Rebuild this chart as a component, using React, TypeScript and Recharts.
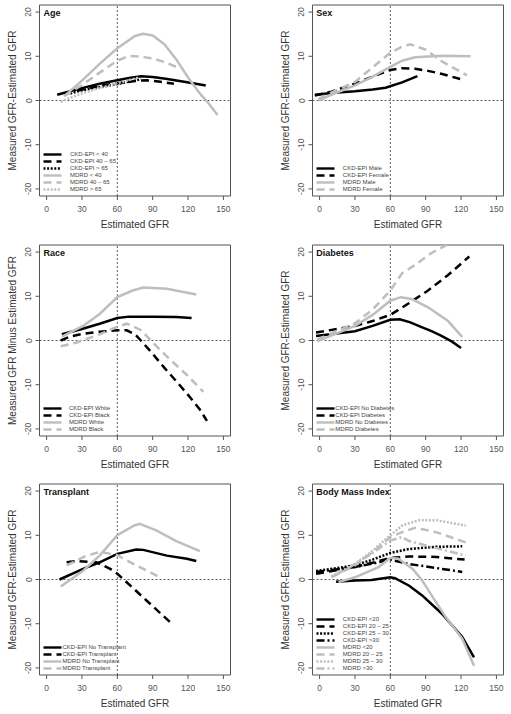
import { LineChart, Line, XAxis, YAxis, ReferenceLine, ReferenceArea } from "recharts";

type Pt = [number, number];

const xTicks = [0, 30, 60, 90, 120, 150];
const yTicks = [-20, -15, -10, -5, 0, 5, 10, 15, 20];

// Age
const ageCkdUnder40: Pt[] = [[9, 1.3], [20, 2.1], [30, 2.8], [45, 3.8], [60, 4.6], [70, 5.1], [80, 5.5], [90, 5.3], [101, 4.9], [118, 4.2], [135, 3.4]];
const ageCkd40to65: Pt[] = [[15, 1.5], [30, 2.5], [45, 3.3], [60, 3.9], [75, 4.4], [85, 4.6], [95, 4.3], [108, 3.8]];
const ageCkdOver65: Pt[] = [[20, 1.6], [30, 2.3], [45, 3.0], [60, 3.7], [72, 4.4], [80, 4.8]];
const ageMdrdUnder40: Pt[] = [[15, 1.0], [30, 4.5], [45, 8.3], [60, 11.8], [75, 14.6], [82, 15.1], [90, 14.7], [100, 12.7], [110, 9.3], [120, 5.2], [130, 1.6], [137, -0.5], [145, -3.3]];
const ageMdrd40to65: Pt[] = [[15, 1.0], [30, 3.5], [45, 6.3], [60, 9.0], [70, 10.1], [80, 9.9], [90, 9.5], [100, 8.7], [110, 7.6]];
const ageMdrdOver65: Pt[] = [[12, -0.3], [20, 0.6], [30, 1.6], [45, 2.8], [60, 3.9], [70, 4.6], [78, 5.2]];

// Sex
const sexCkdMale: Pt[] = [[-4, 1.3], [10, 1.7], [30, 2.1], [45, 2.5], [56, 2.9], [70, 4.1], [83, 5.5]];
const sexCkdFemale: Pt[] = [[-4, 1.1], [10, 2.0], [30, 3.8], [45, 5.4], [60, 6.9], [70, 7.3], [81, 7.2], [92, 6.7], [104, 6.0], [120, 4.8]];
const sexMdrdMale: Pt[] = [[-1, 0.0], [10, 1.3], [30, 3.4], [45, 5.4], [60, 7.6], [70, 9.0], [81, 9.8], [104, 10.1], [128, 10.0]];
const sexMdrdFemale: Pt[] = [[-1, 0.3], [10, 1.8], [30, 4.2], [45, 7.5], [60, 10.8], [70, 12.2], [77, 12.7], [90, 11.5], [104, 8.8], [125, 5.7]];

// Race
const raceCkdWhite: Pt[] = [[13, 1.4], [30, 2.6], [45, 3.8], [60, 5.1], [70, 5.4], [90, 5.4], [110, 5.3], [123, 5.1]];
const raceCkdBlack: Pt[] = [[12, 0.0], [20, 0.9], [30, 1.5], [45, 2.0], [60, 2.3], [68, 2.3], [75, 1.4], [80, 0.0], [90, -3.0], [100, -6.2], [110, -9.2], [120, -12.3], [130, -15.6], [136, -18.2]];
const raceMdrdWhite: Pt[] = [[13, 0.9], [31, 3.3], [45, 6.0], [60, 9.8], [73, 11.3], [82, 12.0], [102, 11.7], [127, 10.4]];
const raceMdrdBlack: Pt[] = [[12, -1.3], [25, -0.5], [45, 1.4], [60, 3.1], [68, 3.8], [79, 2.5], [85, 1.0], [95, -1.8], [102, -3.6], [110, -5.6], [119, -7.8], [133, -11.6]];

// Diabetes
const diaCkdNo: Pt[] = [[-3, 1.0], [30, 2.1], [45, 3.3], [60, 4.7], [68, 4.8], [77, 4.1], [86, 3.1], [95, 2.1], [103, 1.1], [112, -0.2], [120, -1.7]];
const diaCkdYes: Pt[] = [[-3, 1.8], [30, 3.3], [45, 4.4], [60, 5.8], [75, 8.3], [92, 11.3], [109, 14.8], [127, 19.0]];
const diaMdrdNo: Pt[] = [[-2, -0.2], [30, 3.3], [45, 5.8], [60, 9.0], [69, 9.8], [78, 9.4], [92, 7.5], [109, 4.4], [121, 0.8]];
const diaMdrdYes: Pt[] = [[-2, 0.2], [30, 3.9], [45, 7.0], [60, 11.3], [70, 15.2], [81, 17.1], [95, 19.8], [108, 21.6], [115, 22.6]];

// Transplant
const txCkdNo: Pt[] = [[11, 0.0], [31, 2.4], [45, 3.9], [60, 5.8], [76, 6.8], [82, 6.7], [102, 5.4], [119, 4.7], [127, 4.2]];
const txCkdYes: Pt[] = [[17, 3.9], [25, 4.2], [42, 3.9], [54, 2.4], [60, 1.3], [74, -2.1], [85, -4.8], [105, -9.7]];
const txMdrdNo: Pt[] = [[12, -1.6], [31, 2.0], [45, 5.4], [60, 10.0], [74, 12.2], [79, 12.6], [93, 11.1], [110, 8.7], [130, 6.4]];
const txMdrdYes: Pt[] = [[17, 3.2], [34, 5.4], [45, 6.2], [59, 5.6], [74, 3.5], [85, 2.0], [96, 0.5]];

// Body Mass Index
const bmiCkdUnder20: Pt[] = [[14, -0.5], [30, -0.2], [44, -0.1], [60, 0.5], [64, 0.3], [76, -1.4], [87, -3.6], [104, -7.8], [121, -13.0], [131, -17.6]];
const bmiCkd20to25: Pt[] = [[-3, 1.3], [30, 2.8], [45, 3.8], [60, 4.9], [76, 5.2], [99, 5.1], [123, 4.5]];
const bmiCkd25to30: Pt[] = [[-3, 1.9], [30, 3.2], [45, 4.5], [60, 6.0], [76, 6.9], [99, 7.4], [121, 7.5]];
const bmiCkdOver30: Pt[] = [[-3, 1.7], [30, 2.8], [45, 3.6], [60, 4.5], [76, 3.5], [99, 2.6], [121, 1.7]];
const bmiMdrdUnder20: Pt[] = [[16, -0.6], [30, 0.5], [50, 2.8], [60, 4.9], [67, 4.7], [79, 2.4], [87, -0.2], [96, -4.0], [107, -8.5], [121, -13.4], [131, -19.5]];
const bmiMdrd20to25: Pt[] = [[10, 0.5], [30, 3.2], [45, 6.2], [60, 9.6], [70, 10.7], [81, 11.7], [99, 10.7], [127, 8.1]];
const bmiMdrd25to30: Pt[] = [[10, 0.7], [30, 3.5], [45, 6.5], [60, 10.0], [70, 12.2], [84, 13.4], [99, 13.4], [124, 12.2]];
const bmiMdrdOver30: Pt[] = [[13, 0.9], [30, 3.5], [45, 6.0], [60, 8.8], [70, 9.6], [76, 8.7], [96, 7.3], [124, 5.4]];

const BLACK = "#000000";
const GRAY = "#bebebe";
const SOLID = undefined;
const DASHED = "8 5";
const DOTTED = "2 1.6";
const DOTDASH = "8 3 2 3";

interface Series {
  label: string;
  points: Pt[];
  color: string;
  dash?: string;
}

interface Panel {
  title: string;
  yTitle: string;
  left: number;
  top: number;
  textGap: number;
  series: Series[];
}

const panels: Panel[] = [
  {
    title: "Age", yTitle: "Measured GFR-Estimated GFR", left: 0, top: 0, textGap: 8,
    series: [
      { label: "CKD-EPI < 40", points: ageCkdUnder40, color: BLACK, dash: SOLID },
      { label: "CKD-EPI 40 \u2013 65", points: ageCkd40to65, color: BLACK, dash: DASHED },
      { label: "CKD-EPI > 65", points: ageCkdOver65, color: BLACK, dash: DOTTED },
      { label: "MDRD < 40", points: ageMdrdUnder40, color: GRAY, dash: SOLID },
      { label: "MDRD 40 \u2013 65", points: ageMdrd40to65, color: GRAY, dash: DASHED },
      { label: "MDRD > 65", points: ageMdrdOver65, color: GRAY, dash: DOTTED },
    ],
  },
  {
    title: "Sex", yTitle: "Measured GFR-Estimated GFR", left: 272.8, top: 0, textGap: 8,
    series: [
      { label: "CKD-EPI Male", points: sexCkdMale, color: BLACK, dash: SOLID },
      { label: "CKD-EPI Female", points: sexCkdFemale, color: BLACK, dash: DASHED },
      { label: "MDRD Male", points: sexMdrdMale, color: GRAY, dash: SOLID },
      { label: "MDRD Female", points: sexMdrdFemale, color: GRAY, dash: DASHED },
    ],
  },
  {
    title: "Race", yTitle: "Measured GFR Minus Estimated GFR", left: 0, top: 240, textGap: 7,
    series: [
      { label: "CKD-EPI White", points: raceCkdWhite, color: BLACK, dash: SOLID },
      { label: "CKD-EPI Black", points: raceCkdBlack, color: BLACK, dash: DASHED },
      { label: "MDRD White", points: raceMdrdWhite, color: GRAY, dash: SOLID },
      { label: "MDRD Black", points: raceMdrdBlack, color: GRAY, dash: DASHED },
    ],
  },
  {
    title: "Diabetes", yTitle: "Measured GFR-Estimated GFR", left: 272.8, top: 240, textGap: 0.5,
    series: [
      { label: "CKD-EPI No Diabetes", points: diaCkdNo, color: BLACK, dash: SOLID },
      { label: "CKD-EPI Diabetes", points: diaCkdYes, color: BLACK, dash: DASHED },
      { label: "MDRD No Diabetes", points: diaMdrdNo, color: GRAY, dash: SOLID },
      { label: "MDRD Diabetes", points: diaMdrdYes, color: GRAY, dash: DASHED },
    ],
  },
  {
    title: "Transplant", yTitle: "Measured GFR-Estimated GFR", left: 0, top: 479, textGap: 0.5,
    series: [
      { label: "CKD-EPI No Transplant", points: txCkdNo, color: BLACK, dash: SOLID },
      { label: "CKD-EPI Transplant", points: txCkdYes, color: BLACK, dash: DASHED },
      { label: "MDRD No Transplant", points: txMdrdNo, color: GRAY, dash: SOLID },
      { label: "MDRD Transplant", points: txMdrdYes, color: GRAY, dash: DASHED },
    ],
  },
  {
    title: "Body Mass Index", yTitle: "Measured GFR-Estimated GFR", left: 272.8, top: 479, textGap: 8,
    series: [
      { label: "CKD-EPI <20", points: bmiCkdUnder20, color: BLACK, dash: SOLID },
      { label: "CKD-EPI 20 \u2013 25", points: bmiCkd20to25, color: BLACK, dash: DASHED },
      { label: "CKD-EPI 25 \u2013 30", points: bmiCkd25to30, color: BLACK, dash: DOTTED },
      { label: "CKD-EPI >30", points: bmiCkdOver30, color: BLACK, dash: DOTDASH },
      { label: "MDRD <20", points: bmiMdrdUnder20, color: GRAY, dash: SOLID },
      { label: "MDRD 20 \u2013 25", points: bmiMdrd20to25, color: GRAY, dash: DASHED },
      { label: "MDRD 25 \u2013 30", points: bmiMdrd25to30, color: GRAY, dash: DOTTED },
      { label: "MDRD >30", points: bmiMdrdOver30, color: GRAY, dash: DOTDASH },
    ],
  },
];

const FONT = "'Liberation Sans', Arial, Helvetica, sans-serif";
const W = 255;
const H = 240;
const MARGIN = { top: 5, right: 24.5, bottom: 14, left: 9.5 };
const AXIS_W = 30;
const AXIS_H = 30;
const PLOT_H = H - MARGIN.top - MARGIN.bottom - AXIS_H;
const PLOT_LEFT = MARGIN.left + AXIS_W;
const PLOT_BOTTOM = MARGIN.top + PLOT_H;

const XTick = (props: any) => (
  <text x={props.x} y={props.y + 7} textAnchor="middle" dominantBaseline="central" fontSize={8.5} fill="#555" fontFamily={FONT}>
    {props.payload.value}
  </text>
);

const YTick = (props: any) => {
  const cx = props.x - 5;
  return (
    <text x={cx} y={props.y} transform={`rotate(-90, ${cx}, ${props.y})`} textAnchor="middle" dominantBaseline="central" fontSize={8.5} fill="#555" fontFamily={FONT}>
      {props.payload.value}
    </text>
  );
};

function Legend({ series, textGap }: { series: Series[]; textGap: number }) {
  const rowH = 7;
  return (
    <div
      style={{
        position: "absolute",
        left: PLOT_LEFT + 3.5,
        top: PLOT_BOTTOM - 3 - rowH * series.length,
        fontFamily: FONT,
        fontSize: 6,
        color: "#444",
        lineHeight: `${rowH}px`,
        whiteSpace: "nowrap",
      }}
    >
      {series.map((s) => (
        <div key={s.label} style={{ height: rowH, display: "flex", alignItems: "center" }}>
          <svg width={19} height={rowH} style={{ display: "block", flex: "none" }}>
            <line x1={0.5} x2={18.5} y1={rowH / 2} y2={rowH / 2} stroke={s.color} strokeWidth={2.4} strokeDasharray={s.dash} />
          </svg>
          <span style={{ marginLeft: textGap }}>{s.label}</span>
        </div>
      ))}
    </div>
  );
}

function PanelChart({ panel }: { panel: Panel }) {
  return (
    <div style={{ position: "absolute", left: panel.left, top: panel.top, width: W, height: H }}>
      <LineChart width={W} height={H} margin={MARGIN}>
        <XAxis
          dataKey="x"
          type="number"
          domain={[-6, 156]}
          ticks={xTicks}
          allowDataOverflow
          height={AXIS_H}
          tickSize={4}
          tickMargin={2}
          axisLine={false}
          tickLine={{ stroke: "#555" }}
          tick={<XTick />}
          label={(p: any) => (
            <text x={p.viewBox.x + p.viewBox.width / 2} y={p.viewBox.y + 28} textAnchor="middle" dominantBaseline="central" fontSize={10} fill="#333" fontFamily={FONT}>
              Estimated GFR
            </text>
          )}
        />
        <YAxis
          type="number"
          domain={[-21.6, 21.6]}
          ticks={yTicks}
          allowDataOverflow
          width={AXIS_W}
          tickSize={4}
          tickMargin={2}
          axisLine={false}
          tickLine={{ stroke: "#555" }}
          tick={<YTick />}
          label={(p: any) => {
            const cx = p.viewBox.x + 3.2;
            const cy = p.viewBox.y + p.viewBox.height / 2;
            return (
              <text x={cx} y={cy} transform={`rotate(-90, ${cx}, ${cy})`} textAnchor="middle" dominantBaseline="central" fontSize={10} fill="#333" fontFamily={FONT}>
                {panel.yTitle}
              </text>
            );
          }}
        />
        <ReferenceLine x={60} stroke="#333" strokeWidth={0.8} strokeDasharray="2 2" />
        <ReferenceLine y={0} stroke="#333" strokeWidth={0.8} strokeDasharray="2 2" />
        {panel.series.map((s) => (
          <Line
            key={s.label}
            data={s.points.map(([x, y]) => ({ x, y }))}
            dataKey="y"
            type="linear"
            stroke={s.color}
            strokeWidth={2.5}
            strokeDasharray={s.dash}
            dot={false}
            activeDot={false}
            isAnimationActive={false}
          />
        ))}
        <ReferenceArea x1={-6} x2={156} y1={-21.6} y2={21.6} fill="none" stroke="#555" strokeWidth={1} />
      </LineChart>
      <div
        style={{
          position: "absolute",
          left: PLOT_LEFT + 4,
          top: MARGIN.top + 2.5,
          fontFamily: FONT,
          fontSize: 9,
          fontWeight: "bold",
          color: "#111",
        }}
      >
        {panel.title}
      </div>
      <Legend series={panel.series} textGap={panel.textGap} />
    </div>
  );
}

export default function App() {
  return (
    <div style={{ position: "absolute", left: 0, top: 0, width: 511, height: 714, overflow: "hidden", background: "#fff" }}>
      {panels.map((p) => (
        <PanelChart key={p.title} panel={p} />
      ))}
    </div>
  );
}
